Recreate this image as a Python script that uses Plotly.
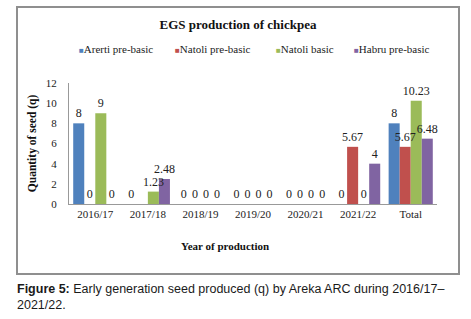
import plotly.graph_objects as go

years = ["2016/17", "2017/18", "2018/19", "2019/20", "2020/21", "2021/22", "Total"]
series_names = ["Arerti pre-basic", "Natoli pre-basic", "Natoli basic", "Habru pre-basic"]
arerti_pre_basic = [8, 0, 0, 0, 0, 0, 8]
natoli_pre_basic = [0, 0, 0, 0, 0, 5.67, 5.67]
natoli_basic = [9, 1.23, 0, 0, 0, 0, 10.23]
habru_pre_basic = [0, 2.48, 0, 0, 0, 4, 6.48]
# data labels shown in the source (one label is hidden there)
show_label = [
    [1, 1, 1, 1, 1, 1, 1],
    [1, 0, 1, 1, 1, 1, 1],
    [1, 1, 1, 1, 1, 1, 1],
    [1, 1, 1, 1, 1, 1, 1],
]
y_ticks = [0, 2, 4, 6, 8, 10, 12]

colors = ["#4F81BD", "#C0504D", "#9BBB59", "#8064A2"]
values = [arerti_pre_basic, natoli_pre_basic, natoli_basic, habru_pre_basic]

SERIF = "Liberation Serif, Times New Roman, serif"
W, H = 471, 319
L, R, T, B = 69, 34, 83, 115
pw, ph = W - L - R, H - T - B


def px(x):
    return (x - L) / pw


def py(y):
    return (H - B - y) / ph


fig = go.Figure()
for i, (name, vals, col) in enumerate(zip(series_names, values, colors)):
    fig.add_trace(go.Bar(
        x=years, y=vals, name=name, offsetgroup=str(i),
        marker=dict(color=col, line=dict(width=0)), showlegend=False,
    ))
# value labels drawn on top of all bars
for i, (name, vals, mask) in enumerate(zip(series_names, values, show_label)):
    fig.add_trace(go.Bar(
        x=years, y=vals, name=name + " labels", offsetgroup=str(i),
        marker=dict(color="rgba(0,0,0,0)", line=dict(width=0)),
        text=[f"{v:g}" if m else "" for v, m in zip(vals, mask)], textposition="outside",
        textfont=dict(family=SERIF, size=12, color="#222"),
        constraintext="none", cliponaxis=False, showlegend=False, hoverinfo="skip",
    ))

annotations = []
leg_x = [77, 173, 274, 352]
for name, col, lx in zip(series_names, colors, leg_x):
    annotations.append(dict(
        text=f"<span style='color:{col};font-size:8px'>■</span>{name}",
        x=px(lx), y=py(49), xref="paper", yref="paper", xanchor="left", yanchor="middle",
        showarrow=False, font=dict(family=SERIF, size=11, color="#222"),
    ))
annotations.append(dict(
    text="<b>Year of production</b>", x=px(225), y=py(246), xref="paper", yref="paper",
    xanchor="center", yanchor="middle", showarrow=False,
    font=dict(family=SERIF, size=11, color="#111"),
))
annotations.append(dict(
    text="<b>Figure 5:</b> Early generation seed produced (q) by Areka ARC during 2016/17–<br>2021/22.",
    x=px(15), y=py(297), xref="paper", yref="paper", xanchor="left", yanchor="middle",
    align="left", showarrow=False,
    font=dict(family="Liberation Sans, Arial, sans-serif", size=12.5, color="#1a1a1a"),
))

fig.update_layout(
    width=W, height=H, margin=dict(l=L, r=R, t=T, b=B),
    paper_bgcolor="white", plot_bgcolor="white",
    barmode="group", bargap=0.16, bargroupgap=0,
    title=dict(text="<b>EGS production of chickpea</b>", x=238 / W, xref="container",
               y=1 - 24 / H, yref="container", xanchor="center", yanchor="middle",
               font=dict(family=SERIF, size=13, color="#111")),
    annotations=annotations,
    xaxis=dict(type="category", showgrid=False, showline=True, linecolor="#999", linewidth=1,
               ticks="", tickfont=dict(family=SERIF, size=11, color="#222")),
    yaxis=dict(range=[0, 12], tickvals=y_ticks, showgrid=False, showline=True,
               linecolor="#999", linewidth=1, ticks="", zeroline=False,
               ticklabelstandoff=9,
               tickfont=dict(family=SERIF, size=11, color="#222"),
               title=dict(text="<b>Quantity of seed (q)</b>", standoff=6,
                          font=dict(family=SERIF, size=11.5, color="#111"))),
)
# outer chart frame
fig.add_shape(type="rect", xref="paper", yref="paper",
              x0=px(17), x1=px(459), y0=py(274), y1=py(7),
              line=dict(color="#8f8f8f", width=2))

fig.write_html("out.html", config={"displayModeBar": False},
               post_script="document.body.style.margin='0';document.body.style.padding='0';")
